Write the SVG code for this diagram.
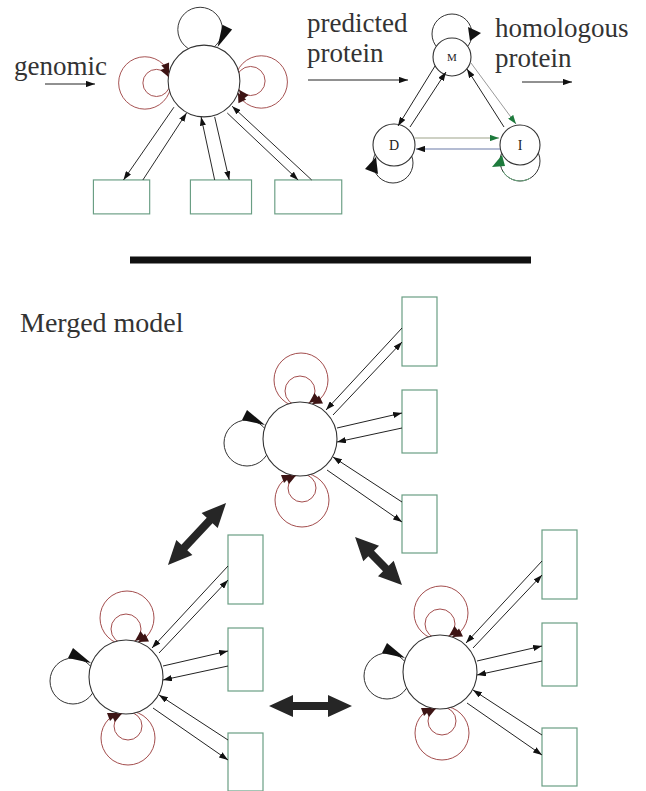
<svg xmlns="http://www.w3.org/2000/svg" width="646" height="791" viewBox="0 0 646 791">
<defs>
<marker id="ah" viewBox="0 0 10 7" refX="10" refY="3.5" markerWidth="9" markerHeight="6.3" markerUnits="userSpaceOnUse" orient="auto"><path d="M0,0 L10,3.5 L0,7 z" fill="#111"/></marker>
<marker id="ahg" viewBox="0 0 10 7" refX="10" refY="3.5" markerWidth="9" markerHeight="6.3" markerUnits="userSpaceOnUse" orient="auto"><path d="M0,0 L10,3.5 L0,7 z" fill="#1d7a3c"/></marker>
<style>
.t{font-family:"Liberation Serif","Times New Roman",serif;font-size:27px;fill:#333}
.s{font-family:"Liberation Serif","Times New Roman",serif;fill:#222;text-anchor:middle}
.st{fill:#fff;stroke:#333;stroke-width:1.1}
.lp{fill:none;stroke:#333;stroke-width:1}
.rl{fill:none;stroke:#a34d4d;stroke-width:1}
.ra{fill:#3d1414}
.bx{fill:#fff;stroke:#6a9e84;stroke-width:1.2}
.cn{fill:none;stroke:#222;stroke-width:1;marker-end:url(#ah)}
.wedge{fill:#111}
.big{fill:#262626}
</style>
</defs>
<rect width="646" height="791" fill="#fff"/>

<!-- labels -->
<g id="labels">
<text class="t" x="14" y="75">genomic</text>
<text class="t" x="307" y="32">predicted</text>
<text class="t" x="307" y="62">protein</text>
<text class="t" x="495" y="37">homologous</text>
<text class="t" x="495" y="67">protein</text>
<text class="t" x="20" y="332" style="font-size:28px">Merged model</text>
</g>
<g id="input-arrows">
<line class="cn" x1="45" y1="84" x2="95" y2="84"/>
<line class="cn" x1="308" y1="80" x2="408" y2="80"/>
<line class="cn" x1="522" y1="82" x2="572" y2="82"/>
</g>

<!-- divider -->
<rect id="divider" x="130" y="256.5" width="401" height="7" fill="#111"/>

<!-- genomic model (top-left) -->
<g id="genomic-model" transform="translate(204,81) rotate(90) scale(0.97)">
<g id="g-self-loop"><circle class="lp" cx="-53" cy="4" r="23"/></g>
<g id="g-loop-a"><circle class="rl" cx="1" cy="-59" r="27"/><circle class="rl" cx="0" cy="-48" r="15"/></g>
<g id="g-loop-b"><circle class="rl" cx="2" cy="61" r="27"/><circle class="rl" cx="2" cy="49" r="14"/></g>
<g id="g-state"><circle class="st" r="37"/></g>
<g id="g-heads"><polygon class="wedge" points="-35,-14 -58,-19 -53,-29"/><polygon class="ra" points="12,-35 23,-35.5 19,-43.5"/><polygon class="ra" points="9,-36 20,-38.5 14.5,-46"/><polygon class="ra" points="-8,36 -16,44 -19,36"/><polygon class="ra" points="-4,36.5 -11,45 -15,37"/></g>
<g id="g-box-a"><rect class="bx" x="102" y="-142" width="35" height="69"/></g>
<g id="g-box-b"><rect class="bx" x="102" y="-49" width="35" height="63"/></g>
<g id="g-box-c"><rect class="bx" x="102" y="56" width="35" height="58"/></g>
<g id="g-connectors">
<line class="cn" x1="102" y1="-111" x2="26" y2="-29"/>
<line class="cn" x1="33" y1="-24" x2="102" y2="-97"/>
<line class="cn" x1="37" y1="-11" x2="102" y2="-26"/>
<line class="cn" x1="102" y1="-11" x2="37" y2="3"/>
<line class="cn" x1="102" y1="63" x2="33" y2="18"/>
<line class="cn" x1="27" y1="31" x2="102" y2="83"/>
</g>
</g>

<!-- profile HMM (top-right) -->
<g id="profile-model">
<g id="node-M"><circle class="lp" cx="452" cy="34" r="20"/><circle class="st" cx="452" cy="57" r="19"/><text class="s" x="452" y="61" font-size="11">M</text><polygon class="wedge" points="468,27 481,33 470,41"/></g>
<g id="node-D"><circle class="lp" cx="393" cy="163" r="20"/><circle class="st" cx="394" cy="145" r="21"/><text class="s" x="394" y="150" font-size="14">D</text><polygon class="wedge" points="365,169 376,157 378,174"/></g>
<g id="node-I"><circle class="lp" cx="520" cy="161" r="20"/><path d="M502.7,171 A20,20 0 0 0 530,178.3" fill="none" stroke="#6aa67e" stroke-width="1"/><circle class="st" cx="520" cy="145" r="20"/><text class="s" x="520" y="150" font-size="14">I</text><polygon points="492,167 502,155 505,166" fill="#1d7a3c"/></g>
<g id="profile-connectors">
<line class="cn" x1="435" y1="66" x2="398" y2="126"/>
<line class="cn" x1="410" y1="127" x2="446" y2="72"/>
<line class="cn" x1="504" y1="127" x2="467" y2="69"/>
<line x1="471" y1="63" x2="516" y2="124" stroke="#9a9a9a" stroke-width="1" marker-end="url(#ahg)"/>
<line x1="415" y1="138" x2="499" y2="138" stroke="#9ea48a" stroke-width="1.2" marker-end="url(#ahg)"/>
<line x1="500" y1="149" x2="416" y2="149" stroke="#6a7aa8" stroke-width="1.2" marker-end="url(#ah)"/>
</g>
</g>

<!-- merged model: top cluster -->
<g id="merged-top" transform="translate(300,439)">
<g id="mt-self-loop"><circle class="lp" cx="-53" cy="4" r="23"/></g>
<g id="mt-loop-a"><circle class="rl" cx="1" cy="-59" r="27"/><circle class="rl" cx="0" cy="-48" r="15"/></g>
<g id="mt-loop-b"><circle class="rl" cx="2" cy="61" r="27"/><circle class="rl" cx="2" cy="49" r="14"/></g>
<g id="mt-state"><circle class="st" r="37"/></g>
<g id="mt-heads"><polygon class="wedge" points="-35,-14 -58,-19 -53,-29"/><polygon class="ra" points="12,-35 23,-35.5 19,-43.5"/><polygon class="ra" points="9,-36 20,-38.5 14.5,-46"/><polygon class="ra" points="-8,36 -16,44 -19,36"/><polygon class="ra" points="-4,36.5 -11,45 -15,37"/></g>
<g id="mt-box-a"><rect class="bx" x="102" y="-142" width="35" height="69"/></g>
<g id="mt-box-b"><rect class="bx" x="102" y="-49" width="35" height="63"/></g>
<g id="mt-box-c"><rect class="bx" x="102" y="56" width="35" height="58"/></g>
<g id="mt-connectors">
<line class="cn" x1="102" y1="-111" x2="26" y2="-29"/>
<line class="cn" x1="33" y1="-24" x2="102" y2="-97"/>
<line class="cn" x1="37" y1="-11" x2="102" y2="-26"/>
<line class="cn" x1="102" y1="-11" x2="37" y2="3"/>
<line class="cn" x1="102" y1="63" x2="33" y2="18"/>
<line class="cn" x1="27" y1="31" x2="102" y2="83"/>
</g>
</g>

<!-- merged model: bottom-left cluster -->
<g id="merged-left" transform="translate(126,677)">
<g id="ml-self-loop"><circle class="lp" cx="-53" cy="4" r="23"/></g>
<g id="ml-loop-a"><circle class="rl" cx="1" cy="-59" r="27"/><circle class="rl" cx="0" cy="-48" r="15"/></g>
<g id="ml-loop-b"><circle class="rl" cx="2" cy="61" r="27"/><circle class="rl" cx="2" cy="49" r="14"/></g>
<g id="ml-state"><circle class="st" r="37"/></g>
<g id="ml-heads"><polygon class="wedge" points="-35,-14 -58,-19 -53,-29"/><polygon class="ra" points="12,-35 23,-35.5 19,-43.5"/><polygon class="ra" points="9,-36 20,-38.5 14.5,-46"/><polygon class="ra" points="-8,36 -16,44 -19,36"/><polygon class="ra" points="-4,36.5 -11,45 -15,37"/></g>
<g id="ml-box-a"><rect class="bx" x="102" y="-142" width="35" height="69"/></g>
<g id="ml-box-b"><rect class="bx" x="102" y="-49" width="35" height="63"/></g>
<g id="ml-box-c"><rect class="bx" x="102" y="56" width="35" height="58"/></g>
<g id="ml-connectors">
<line class="cn" x1="102" y1="-111" x2="26" y2="-29"/>
<line class="cn" x1="33" y1="-24" x2="102" y2="-97"/>
<line class="cn" x1="37" y1="-11" x2="102" y2="-26"/>
<line class="cn" x1="102" y1="-11" x2="37" y2="3"/>
<line class="cn" x1="102" y1="63" x2="33" y2="18"/>
<line class="cn" x1="27" y1="31" x2="102" y2="83"/>
</g>
</g>

<!-- merged model: bottom-right cluster -->
<g id="merged-right" transform="translate(440,672)">
<g id="mr-self-loop"><circle class="lp" cx="-53" cy="4" r="23"/></g>
<g id="mr-loop-a"><circle class="rl" cx="1" cy="-59" r="27"/><circle class="rl" cx="0" cy="-48" r="15"/></g>
<g id="mr-loop-b"><circle class="rl" cx="2" cy="61" r="27"/><circle class="rl" cx="2" cy="49" r="14"/></g>
<g id="mr-state"><circle class="st" r="37"/></g>
<g id="mr-heads"><polygon class="wedge" points="-35,-14 -58,-19 -53,-29"/><polygon class="ra" points="12,-35 23,-35.5 19,-43.5"/><polygon class="ra" points="9,-36 20,-38.5 14.5,-46"/><polygon class="ra" points="-8,36 -16,44 -19,36"/><polygon class="ra" points="-4,36.5 -11,45 -15,37"/></g>
<g id="mr-box-a"><rect class="bx" x="102" y="-142" width="35" height="69"/></g>
<g id="mr-box-b"><rect class="bx" x="102" y="-49" width="35" height="63"/></g>
<g id="mr-box-c"><rect class="bx" x="102" y="56" width="35" height="58"/></g>
<g id="mr-connectors">
<line class="cn" x1="102" y1="-111" x2="26" y2="-29"/>
<line class="cn" x1="33" y1="-24" x2="102" y2="-97"/>
<line class="cn" x1="37" y1="-11" x2="102" y2="-26"/>
<line class="cn" x1="102" y1="-11" x2="37" y2="3"/>
<line class="cn" x1="102" y1="63" x2="33" y2="18"/>
<line class="cn" x1="27" y1="31" x2="102" y2="83"/>
</g>
</g>

<!-- thick double arrows between merged clusters -->
<g id="merge-connectors">
<path class="big" transform="translate(197,534) rotate(-46.9)" d="M-42.5,0 L-18.5,-11 L-18.5,-4 L18.5,-4 L18.5,-11 L42.5,0 L18.5,11 L18.5,4 L-18.5,4 L-18.5,11 Z"/>
<path class="big" transform="translate(378.5,561) rotate(45.6)" d="M-33.5,0 L-10.5,-11 L-10.5,-4 L10.5,-4 L10.5,-11 L33.5,0 L10.5,11 L10.5,4 L-10.5,4 L-10.5,11 Z"/>
<path class="big" transform="translate(310.5,706)" d="M-41.5,0 L-17.5,-11 L-17.5,-4 L17.5,-4 L17.5,-11 L41.5,0 L17.5,11 L17.5,4 L-17.5,4 L-17.5,11 Z"/>
</g>
</svg>
